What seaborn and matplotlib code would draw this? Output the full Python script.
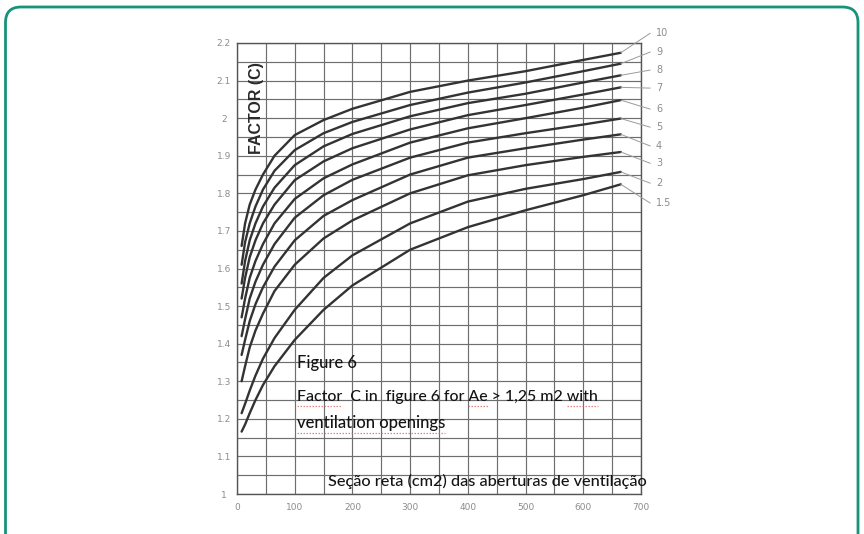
import numpy as np
import pandas as pd
import matplotlib
matplotlib.use("Agg")
import matplotlib.pyplot as plt
import seaborn as sns
from matplotlib.patches import FancyBboxPatch
from matplotlib.lines import Line2D
from matplotlib.ticker import MultipleLocator

# ---------------- data ----------------
x_cm2 = [8, 14, 22, 32, 45, 65, 100, 150, 200, 300, 400, 500, 600, 665]
c_10 = [1.66, 1.72, 1.77, 1.81, 1.85, 1.90, 1.955, 1.995, 2.025, 2.07, 2.10, 2.125, 2.155, 2.174]
c_9 = [1.61, 1.67, 1.72, 1.765, 1.81, 1.86, 1.915, 1.96, 1.99, 2.035, 2.068, 2.095, 2.125, 2.145]
c_8 = [1.56, 1.62, 1.675, 1.72, 1.765, 1.815, 1.875, 1.925, 1.958, 2.005, 2.04, 2.065, 2.095, 2.114]
c_7 = [1.52, 1.575, 1.63, 1.675, 1.72, 1.77, 1.835, 1.885, 1.92, 1.97, 2.008, 2.035, 2.063, 2.082]
c_6 = [1.47, 1.52, 1.575, 1.62, 1.665, 1.72, 1.785, 1.84, 1.877, 1.935, 1.973, 2.0, 2.028, 2.048]
c_5 = [1.42, 1.465, 1.52, 1.565, 1.61, 1.665, 1.735, 1.795, 1.836, 1.895, 1.935, 1.96, 1.983, 1.999]
c_4 = [1.37, 1.41, 1.46, 1.505, 1.55, 1.605, 1.675, 1.74, 1.782, 1.85, 1.895, 1.92, 1.943, 1.957]
c_3 = [1.30, 1.34, 1.39, 1.435, 1.48, 1.54, 1.61, 1.68, 1.728, 1.80, 1.848, 1.875, 1.897, 1.910]
c_2 = [1.215, 1.24, 1.275, 1.315, 1.36, 1.415, 1.49, 1.575, 1.635, 1.72, 1.778, 1.812, 1.838, 1.857]
c_15 = [1.166, 1.185, 1.215, 1.25, 1.29, 1.34, 1.41, 1.49, 1.555, 1.65, 1.71, 1.755, 1.795, 1.824]

curve_names = ["10", "9", "8", "7", "6", "5", "4", "3", "2", "1.5"]
curve_values = [c_10, c_9, c_8, c_7, c_6, c_5, c_4, c_3, c_2, c_15]

x_ticks = [0, 100, 200, 300, 400, 500, 600, 700]
x_tick_labels = ["0", "100", "200", "300", "400", "500", "600", "700"]
y_ticks = [1.0, 1.1, 1.2, 1.3, 1.4, 1.5, 1.6, 1.7, 1.8, 1.9, 2.0, 2.1, 2.2]
y_tick_labels = ["1", "1.1", "1.2", "1.3", "1.4", "1.5", "1.6", "1.7", "1.8", "1.9", "2", "2.1", "2.2"]

y_axis_title = "FACTOR (C)"
note_lines = ["Figure 6",
              "Factor  C in  figure 6 for Ae > 1,25 m2 with",
              "ventilation openings"]
x_axis_note = "Seção reta (cm2) das aberturas de ventilação"

# label placement (layout only)
label_y = [2.226, 2.176, 2.128, 2.080, 2.024, 1.976, 1.926, 1.880, 1.827, 1.774]
label_x = 726
leader_x = 716

# ---------------- figure ----------------
sns.set_theme(style="white")
plt.rcParams["font.family"] = ["DejaVu Sans"]

W, H = 864, 534
fig = plt.figure(figsize=(W / 100, H / 100), dpi=100)
fig.patch.set_facecolor("white")

def fx(px):
    return px / W

def fy(py):
    return 1 - py / H

ax_l, ax_r, ax_t, ax_b = 237, 641, 43, 494
ax = fig.add_axes([fx(ax_l), fy(ax_b), (ax_r - ax_l) / W, (ax_b - ax_t) / H])

rows = []
for name, vals in zip(curve_names, curve_values):
    for xv, yv in zip(x_cm2, vals):
        rows.append({"curve": name, "x": xv, "C": yv})
df = pd.DataFrame(rows)

sns.lineplot(data=df, x="x", y="C", hue="curve", units="curve", estimator=None,
             palette={n: "#333333" for n in curve_names}, linewidth=1.7,
             legend=False, sort=True, ax=ax, zorder=3)

ax.set_xlim(0, 700)
ax.set_ylim(1.0, 2.2)
ax.set_xticks(x_ticks)
ax.set_xticklabels(x_tick_labels)
ax.set_yticks(y_ticks)
ax.set_yticklabels(y_tick_labels)
ax.xaxis.set_minor_locator(MultipleLocator(50))
ax.yaxis.set_minor_locator(MultipleLocator(0.05))
ax.grid(True, which="both", color="#6e6e6e", linewidth=0.85)
ax.set_axisbelow(True)
ax.tick_params(which="both", length=0)
ax.tick_params(axis="x", labelsize=6.5, labelcolor="#8c8c8c", pad=6.5)
ax.tick_params(axis="y", labelsize=6.5, labelcolor="#8c8c8c", pad=9.5)
for lbl in ax.get_yticklabels():
    lbl.set_horizontalalignment("center")
ax.set_xlabel("")
ax.set_ylabel("")
for side, sp in ax.spines.items():
    sp.set_color("#555555")
    sp.set_linewidth(1.0)

# leader lines and curve labels
for name, vals, ly in zip(curve_names, curve_values, label_y):
    ax.plot([x_cm2[-1], leader_x], [vals[-1], ly], color="#9a9a9a", lw=0.7,
            clip_on=False, zorder=3)
    ax.text(label_x, ly, name, fontsize=7, color="#8c8c8c", va="center",
            ha="left", clip_on=False)

# axis title inside plot
fig.text(fx(256.5), fy(108.5), y_axis_title, rotation=90, ha="center", va="center",
         fontsize=11.5, fontweight="bold", family=["Liberation Sans", "DejaVu Sans"],
         color="#2a2a2a")

renderer = fig.canvas.get_renderer()

def fit_text(px, py, s, target_w, family):
    t = fig.text(fx(px), fy(py), s, fontsize=10, family=family, color="#141414",
                 fontweight="medium", ha="left", va="baseline", zorder=5)
    w = t.get_window_extent(renderer).width
    t.set_fontsize(10 * target_w / w)
    return t

def word_span(t, prefix, word):
    fp = t.get_fontproperties()
    tmp = fig.text(0, 0, prefix + word, fontproperties=fp)
    w_all = tmp.get_window_extent(renderer).width
    tmp.set_text(word)
    w_word = tmp.get_window_extent(renderer).width
    tmp.remove()
    return w_all - w_word, w_all

def underline(t, prefix, word, py):
    x0 = t.get_window_extent(renderer).x0
    a, b = word_span(t, prefix, word)
    fig.add_artist(Line2D([fx(x0 + a), fx(x0 + b)], [fy(py), fy(py)],
                          transform=fig.transFigure, color="#e05a5a", lw=0.9,
                          linestyle=(0, (1.2, 1.2)), alpha=0.75, zorder=6))

fam = ["Lato", "DejaVu Sans"]
t1 = fit_text(297, 368, note_lines[0], 60, fam)
t2 = fit_text(297, 401, note_lines[1], 302, fam)
t3 = fit_text(297, 428, note_lines[2], 149, fam)
t4 = fit_text(328, 486, x_axis_note, 320, fam)

underline(t2, "", "Factor", 406)
underline(t2, "Factor  C in  figure 6 for ", "Ae", 406)
underline(t2, "Factor  C in  figure 6 for Ae > 1,25 m2 ", "with", 406)
underline(t3, "", "ventilation openings", 433)

# green rounded frame (cut at bottom)
frame = FancyBboxPatch((fx(5.5), fy(560)), fx(858 - 5.5), (560 - 7) / H,
                       boxstyle="round,pad=0,rounding_size=0.018",
                       transform=fig.transFigure, facecolor="none",
                       edgecolor="#16937a", linewidth=2.0, clip_on=False,
                       mutation_aspect=W / H)
fig.add_artist(frame)

fig.savefig("out.png", dpi=100, facecolor="white")
